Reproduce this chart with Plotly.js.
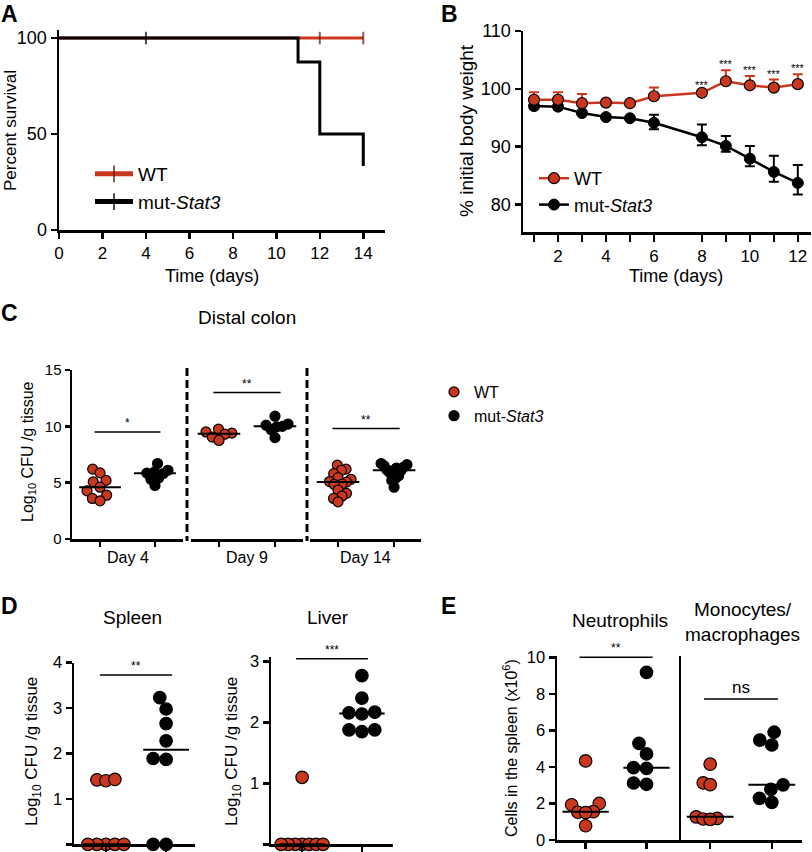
<!DOCTYPE html>
<html>
<head>
<meta charset="utf-8">
<script src="https://cdn.plot.ly/plotly-3.0.1.min.js"></script>
<style>
  html, body { margin: 0; padding: 0; background: #fff; }
  #fig { width: 812px; height: 852px; }
</style>
</head>
<body>
<div id="fig"></div>
<script>
(function () {
	'use strict';

	// ---- A: survival ----
	const survTimeWT = [0, 12, 14];
	const survWT = [100, 100, 100];
	const censorWT = [0, 1, 1];
	const survTimeMut = [0, 4, 11, 12, 14];
	const survMut = [100, 100, 87.5, 50, 33.3];
	const censorMut = [0, 1, 0, 0, 0];

	// ---- B: body weight ----
	const bwDays = [1, 2, 3, 4, 5, 6, 8, 9, 10, 11, 12];
	const bwWT = [98.1, 98.1, 97.5, 97.6, 97.5, 98.7, 99.3, 101.3, 100.6, 100.2, 100.8];
	const bwWTerr = [1.3, 1.3, 1.6, 0.2, 0.2, 1.5, 0.3, 1.9, 1.6, 1.4, 1.7];
	const bwMut = [97.0, 96.9, 95.8, 95.1, 94.9, 94.1, 91.6, 90.1, 87.9, 85.6, 83.7];
	const bwMutUp = [0.5, 0.5, 0.3, 0.3, 0.3, 1.4, 2.2, 1.7, 2.2, 2.8, 3.1];
	const bwMutDn = [0.5, 0.5, 0.3, 0.3, 0.3, 1.1, 1.4, 1.0, 1.3, 1.7, 2.0];
	const bwSigDays = [8, 9, 10, 11, 12];

	// ---- C: distal colon ----
	const colonDays = ['Day 4', 'Day 9', 'Day 14'];
	const colonWTd4 = [6.2, 5.87, 5.2, 5.07, 4.6, 4.28, 3.89, 3.6, 3.39];
	const colonMutd4 = [6.7, 6.1, 5.95, 5.85, 5.8, 5.4, 5.3, 4.75];
	const colonWTd9 = [9.75, 9.5, 9.4, 9.3, 9.05, 8.75];
	const colonMutd9 = [10.9, 10.2, 10.1, 10.0, 9.95, 9.7, 9.0];
	const colonWTd14 = [6.55, 6.2, 6.1, 5.8, 5.45, 5.3, 5.1, 5.05, 4.87, 4.85, 4.35, 4.05, 3.8, 3.6, 3.3];
	const colonMutd14 = [6.7, 6.6, 6.5, 6.4, 6.3, 6.15, 6.1, 6.05, 5.9, 5.6, 5.4, 5.2, 4.6];
	const colonSigLabels = ['*', '**', '**'];
	const colonSigLevels = [9.5, 13.0, 9.8];

	// ---- D: spleen / liver ----
	const spleenWT = [1.42, 1.40, 1.43, 0, 0, 0, 0, 0];
	const spleenMut = [3.23, 2.98, 2.66, 2.28, 1.89, 1.87, 0, 0];
	const liverWT = [1.1, 0, 0, 0, 0, 0, 0, 0];
	const liverMut = [2.77, 2.40, 2.16, 2.14, 2.17, 1.88, 1.85, 1.88];
	const organSigLabels = ['**', '***'];
	const organSigLevels = [3.73, 3.05];

	// ---- E: spleen cells ----
	const neutWT = [4.33, 2.0, 1.93, 1.55, 1.52, 1.5, 0.78];
	const neutMut = [9.18, 5.29, 4.71, 3.96, 3.92, 3.12, 3.05];
	const monoWT = [4.15, 3.13, 3.03, 1.27, 1.18, 1.15, 1.13];
	const monoMut = [5.9, 5.47, 5.2, 3.02, 2.77, 2.28, 2.06];
	const cellSigLabels = ['**', 'ns'];
	const cellSigLevels = [10.0, 7.72];

	const FONT = '"Liberation Sans", Arial, Helvetica, sans-serif';
	const RED = '#c9371f';
	const RED_DARK = '#5e1a10';
	const W = 812, H = 852;

	// pixel -> paper helpers
	const fx = x => x / W;
	const fy = y => 1 - y / H;
	const hdom = (a, b) => [fx(a), fx(b)];
	const vdom = (top, bot) => [fy(bot), fy(top)];
	const axKey = id => id[0] + 'axis' + id.slice(1);
	const scale = (ax, total) => (ax.domain[1] - ax.domain[0]) * total / (ax.range[1] - ax.range[0]);

	const median = a => {
		const s = [...a].sort((p, q) => p - q), n = s.length;
		return n % 2 ? s[(n - 1) / 2] : (s[n / 2 - 1] + s[n / 2]) / 2;
	};

	// simple beeswarm, offsets in px
	const swarm = (vals, ky, gap, half) => {
		const order = vals.map((v, i) => i).sort((a, b) => vals[a] - vals[b]);
		const placed = [], off = new Array(vals.length);
		order.forEach(i => {
			const y = vals[i] * ky;
			const cands = [0];
			placed.forEach(p => {
				const dy = Math.abs(p.y - y);
				if (dy < gap) {
					const dx = Math.sqrt(gap * gap - dy * dy);
					cands.push(p.x + dx, p.x - dx);
				}
			});
			cands.sort((a, b) => Math.abs(a) - Math.abs(b) || a - b);
			const x = cands.find(c => placed.every(p => Math.hypot(p.x - c, p.y - y) >= gap - 1e-6));
			placed.push({ x, y });
			off[i] = x;
		});
		const m = Math.max(...off.map(Math.abs));
		const k = m > half ? half / m : 1;
		return off.map(o => o * k);
	};

	const tf = size => ({ family: FONT, size, color: '#000' });
	const axis = extra => Object.assign({
		showline: true, linecolor: '#000', linewidth: 2.5,
		ticks: 'outside', ticklen: 6, tickwidth: 2.5, tickcolor: '#000',
		showgrid: false, zeroline: false, fixedrange: true,
		tickfont: tf(15)
	}, extra);

	const layout = {
		width: W, height: H,
		margin: { l: 0, r: 0, t: 0, b: 0 },
		paper_bgcolor: '#fff', plot_bgcolor: 'rgba(0,0,0,0)',
		font: { family: FONT, color: '#000' },
		hovermode: false,
		// A
		xaxis: axis({ domain: hdom(59, 385), range: [0, 15], tick0: 0, dtick: 2, anchor: 'y', tickfont: tf(17) }),
		yaxis: axis({ domain: vdom(30, 230), range: [0, 104.2], tickvals: [0, 50, 100], anchor: 'x', tickfont: tf(18) }),
		// B: labelled even days, unlabelled ticks on the odd ones
		xaxis2: axis({ domain: hdom(523, 811), range: [0.54, 12.55], tickvals: bwDays.filter(d => d % 2 === 0),
			ticklen: 7, anchor: 'y2', tickfont: tf(17),
			minor: { tickmode: 'array', tickvals: bwDays.filter(d => d % 2), ticks: 'outside', ticklen: 7,
				tickwidth: 2.5, tickcolor: '#000', showgrid: false } }),
		yaxis2: axis({ domain: vdom(31, 232), range: [75.2, 110], tickvals: [80, 90, 100, 110], anchor: 'x2', tickfont: tf(18) }),
		// C
		xaxis3: axis({ domain: hdom(72, 183), range: [-0.51, 1.51], tickvals: [0, 1], showticklabels: false, ticklen: 5, anchor: 'y3' }),
		xaxis4: axis({ domain: hdom(191, 303), range: [-0.5, 1.5], tickvals: [0, 1], showticklabels: false, ticklen: 5, anchor: 'y3' }),
		xaxis5: axis({ domain: hdom(310, 421), range: [-0.5, 1.48], tickvals: [0, 1], showticklabels: false, ticklen: 5, anchor: 'y3' }),
		yaxis3: axis({ domain: vdom(370, 539), range: [0, 15], tickvals: [0, 5, 10, 15], ticklen: 5, anchor: 'x3' }),
		// D
		xaxis6: axis({ domain: hdom(74, 195), range: [-0.53, 1.48], tickvals: [0, 1], showticklabels: false, anchor: 'y6' }),
		yaxis6: axis({ domain: vdom(662.7, 844.3), range: [0, 4], tickvals: [0, 1, 2, 3, 4], anchor: 'x6', tickfont: tf(16.5) }),
		xaxis7: axis({ domain: hdom(271, 393), range: [-0.52, 1.52], tickvals: [0, 1], showticklabels: false, anchor: 'y7' }),
		yaxis7: axis({ domain: vdom(656.8, 844.3), range: [0, 3.08], tickvals: [0, 1, 2, 3], anchor: 'x7', tickfont: tf(16.5) }),
		// E
		xaxis8: axis({ domain: hdom(557, 680), range: [-0.47, 1.55], tickvals: [0, 1], showticklabels: false, anchor: 'y8' }),
		xaxis9: axis({ domain: hdom(680, 802), range: [-0.49, 1.49], tickvals: [0, 1], showticklabels: false, anchor: 'y8' }),
		yaxis8: axis({ domain: vdom(655.5, 840), range: [0, 10.1], tickvals: [0, 2, 4, 6, 8, 10], anchor: 'x8', tickfont: tf(16.5) }),

		legend: { x: fx(90), y: fy(155), xanchor: 'left', yanchor: 'top', bgcolor: 'rgba(0,0,0,0)',
			itemsizing: 'constant', itemwidth: 38, font: tf(19) },
		legend2: { x: fx(534), y: fy(160), xanchor: 'left', yanchor: 'top', bgcolor: 'rgba(0,0,0,0)',
			font: tf(18) },
		legend3: { x: fx(434), y: fy(375), xanchor: 'left', yanchor: 'top', bgcolor: 'rgba(0,0,0,0)',
			font: tf(16) },
		shapes: [],
		annotations: []
	};

	const traces = [];
	const notes = layout.annotations;

	const note = (text, x, y, size, extra) => notes.push(Object.assign({
		text, x: fx(x), y: fy(y), xref: 'paper', yref: 'paper', showarrow: false,
		xanchor: 'center', yanchor: 'middle', font: tf(size)
	}, extra || {}));

	// ---- A ----
	traces.push({
		type: 'scatter', mode: 'lines+markers', name: 'WT', legend: 'legend',
		x: survTimeWT, y: survWT, xaxis: 'x', yaxis: 'y', cliponaxis: false,
		line: { shape: 'hv', color: RED, width: 3 },
		marker: { symbol: 'line-ns', size: censorWT.map(c => c ? 9 : 0), line: { color: RED_DARK, width: 2 } }
	});
	traces.push({
		type: 'scatter', mode: 'lines+markers', name: 'mut-<i>Stat3</i>', legend: 'legend',
		x: survTimeMut, y: survMut, xaxis: 'x', yaxis: 'y', cliponaxis: false,
		line: { shape: 'hv', color: '#000', width: 3 },
		marker: { symbol: 'line-ns', size: censorMut.map(c => c ? 9 : 0), line: { color: '#000', width: 2 } }
	});

	// ---- B ----
	traces.push({
		type: 'scatter', mode: 'lines+markers', name: 'mut-<i>Stat3</i>', legend: 'legend2', legendrank: 2,
		x: bwDays, y: bwMut, xaxis: 'x2', yaxis: 'y2', cliponaxis: false,
		line: { color: '#000', width: 2.5 },
		marker: { size: 11, color: '#000', line: { color: '#000', width: 1 } },
		error_y: { type: 'data', symmetric: false, array: bwMutUp, arrayminus: bwMutDn, color: '#000', thickness: 2, width: 5 }
	});
	traces.push({
		type: 'scatter', mode: 'lines+markers', name: 'WT', legend: 'legend2', legendrank: 1,
		x: bwDays, y: bwWT, xaxis: 'x2', yaxis: 'y2', cliponaxis: false,
		line: { color: RED, width: 2.5 },
		marker: { size: 11, color: RED, line: { color: '#000', width: 1.2 } },
		error_y: { type: 'data', symmetric: false, array: bwWTerr, arrayminus: bwWTerr.map(() => 0), color: RED, thickness: 2, width: 5 }
	});
	bwSigDays.forEach(d => {
		const i = bwDays.indexOf(d);
		notes.push({ text: '***', x: d, y: bwWT[i] + bwWTerr[i], xref: 'x2', yref: 'y2', yanchor: 'bottom',
			yshift: -2, showarrow: false, font: tf(11) });
	});

	// ---- dot plots ----
	const dots = (vals, cat, xa, ya, wt, opt) => {
		const xAx = layout[axKey(xa)], yAx = layout[axKey(ya)];
		const kx = scale(xAx, W), ky = scale(yAx, H);
		const off = swarm(vals, ky, opt.gap, opt.half);
		const m = median(vals);
		traces.push({
			type: 'scatter', mode: 'markers', xaxis: xa, yaxis: ya, cliponaxis: false,
			x: vals.map((v, i) => cat + off[i] / kx), y: vals,
			name: wt ? 'WT' : 'mut-<i>Stat3</i>', showlegend: !!opt.legend, legend: opt.legend || 'legend',
			marker: { size: opt.size, color: wt ? RED : '#000', line: { color: '#000', width: 1.2 } }
		});
		traces.push({
			type: 'scatter', mode: 'lines', xaxis: xa, yaxis: ya, showlegend: false,
			x: [cat - 0.38, cat + 0.38], y: [m, m], line: { color: '#000', width: 2 }
		});
	};
	const sig = (label, level, xa, ya, size) => {
		traces.push({ type: 'scatter', mode: 'lines', xaxis: xa, yaxis: ya, showlegend: false,
			x: [-0.1, 1.1], y: [level, level], line: { color: '#000', width: 1.5 } });
		notes.push({ text: label, x: 0.5, y: level, xref: xa, yref: ya, yanchor: 'bottom', showarrow: false,
			font: tf(size) });
	};

	// C
	const cOpt = { size: 10, gap: 10.5, half: 13 };
	const colonSets = [[colonWTd4, colonMutd4, 'x3'], [colonWTd9, colonMutd9, 'x4'], [colonWTd14, colonMutd14, 'x5']];
	colonSets.forEach(([wt, mut, xa], k) => {
		dots(wt, 0, xa, 'y3', true, Object.assign({}, cOpt, k === 0 ? { legend: 'legend3' } : {}));
		dots(mut, 1, xa, 'y3', false, Object.assign({}, cOpt, k === 0 ? { legend: 'legend3' } : {}));
		sig(colonSigLabels[k], colonSigLevels[k], xa, 'y3', 12);
		notes.push({ text: colonDays[k], x: 0.5, y: fy(557), xref: xa + ' domain', yref: 'paper', showarrow: false,
			font: tf(16) });
	});
	layout.shapes.push(
		{ type: 'line', xref: 'paper', yref: 'paper', x0: fx(187), x1: fx(187), y0: fy(368), y1: fy(541),
			line: { color: '#000', width: 3, dash: '8px,4px' } },
		{ type: 'line', xref: 'paper', yref: 'paper', x0: fx(307), x1: fx(307), y0: fy(368), y1: fy(541),
			line: { color: '#000', width: 3, dash: '8px,4px' } }
	);

	// D
	dots(spleenWT, 0, 'x6', 'y6', true, { size: 12.5, gap: 13, half: 18 });
	dots(spleenMut, 1, 'x6', 'y6', false, { size: 12.5, gap: 13, half: 18 });
	sig(organSigLabels[0], organSigLevels[0], 'x6', 'y6', 12);
	dots(liverWT, 0, 'x7', 'y7', true, { size: 12.5, gap: 13, half: 21 });
	dots(liverMut, 1, 'x7', 'y7', false, { size: 12.5, gap: 13, half: 21 });
	sig(organSigLabels[1], organSigLevels[1], 'x7', 'y7', 12);

	// E
	const eOpt = { size: 12.5, gap: 13, half: 14 };
	dots(neutWT, 0, 'x8', 'y8', true, eOpt);
	dots(neutMut, 1, 'x8', 'y8', false, eOpt);
	sig(cellSigLabels[0], cellSigLevels[0], 'x8', 'y8', 12);
	dots(monoWT, 0, 'x9', 'y8', true, eOpt);
	dots(monoMut, 1, 'x9', 'y8', false, eOpt);
	sig(cellSigLabels[1], cellSigLevels[1], 'x9', 'y8', 17);
	layout.shapes.push({ type: 'line', xref: 'paper', yref: 'paper', x0: fx(680), x1: fx(680), y0: fy(656), y1: fy(840),
		line: { color: '#000', width: 2 } });

	// ---- text: panel letters, titles ----
	note('<b>A</b>', 9, 14, 23);
	note('<b>B</b>', 449, 14, 23);
	note('<b>C</b>', 9, 313, 23);
	note('<b>D</b>', 9, 606, 23);
	note('<b>E</b>', 448, 606, 23);

	note('Percent survival', 10, 131, 17, { textangle: -90 });
	note('Time (days)', 212, 276, 18);
	note('% initial body weight', 466, 131, 19, { textangle: -90 });
	note('Time (days)', 676, 276, 18);

	note('Distal colon', 247, 318, 19);
	note('Log<sub>10</sub> CFU /g tissue', 28, 452, 16, { textangle: -90 });

	note('Spleen', 132, 617, 19);
	note('Liver', 328, 617, 19);
	note('Log<sub>10</sub> CFU /g tissue', 33, 752, 17, { textangle: -90 });
	note('Log<sub>10</sub> CFU /g tissue', 233, 752, 17, { textangle: -90 });

	note('Neutrophils', 620, 620, 19);
	note('Monocytes/<br>macrophages', 742, 622, 19);
	note('Cells in the spleen (x10<sup>6</sup>)', 510, 748, 16, { textangle: -90 });

	Plotly.newPlot('fig', traces, layout, { displayModeBar: false, staticPlot: true });
})();
</script>
</body>
</html>
